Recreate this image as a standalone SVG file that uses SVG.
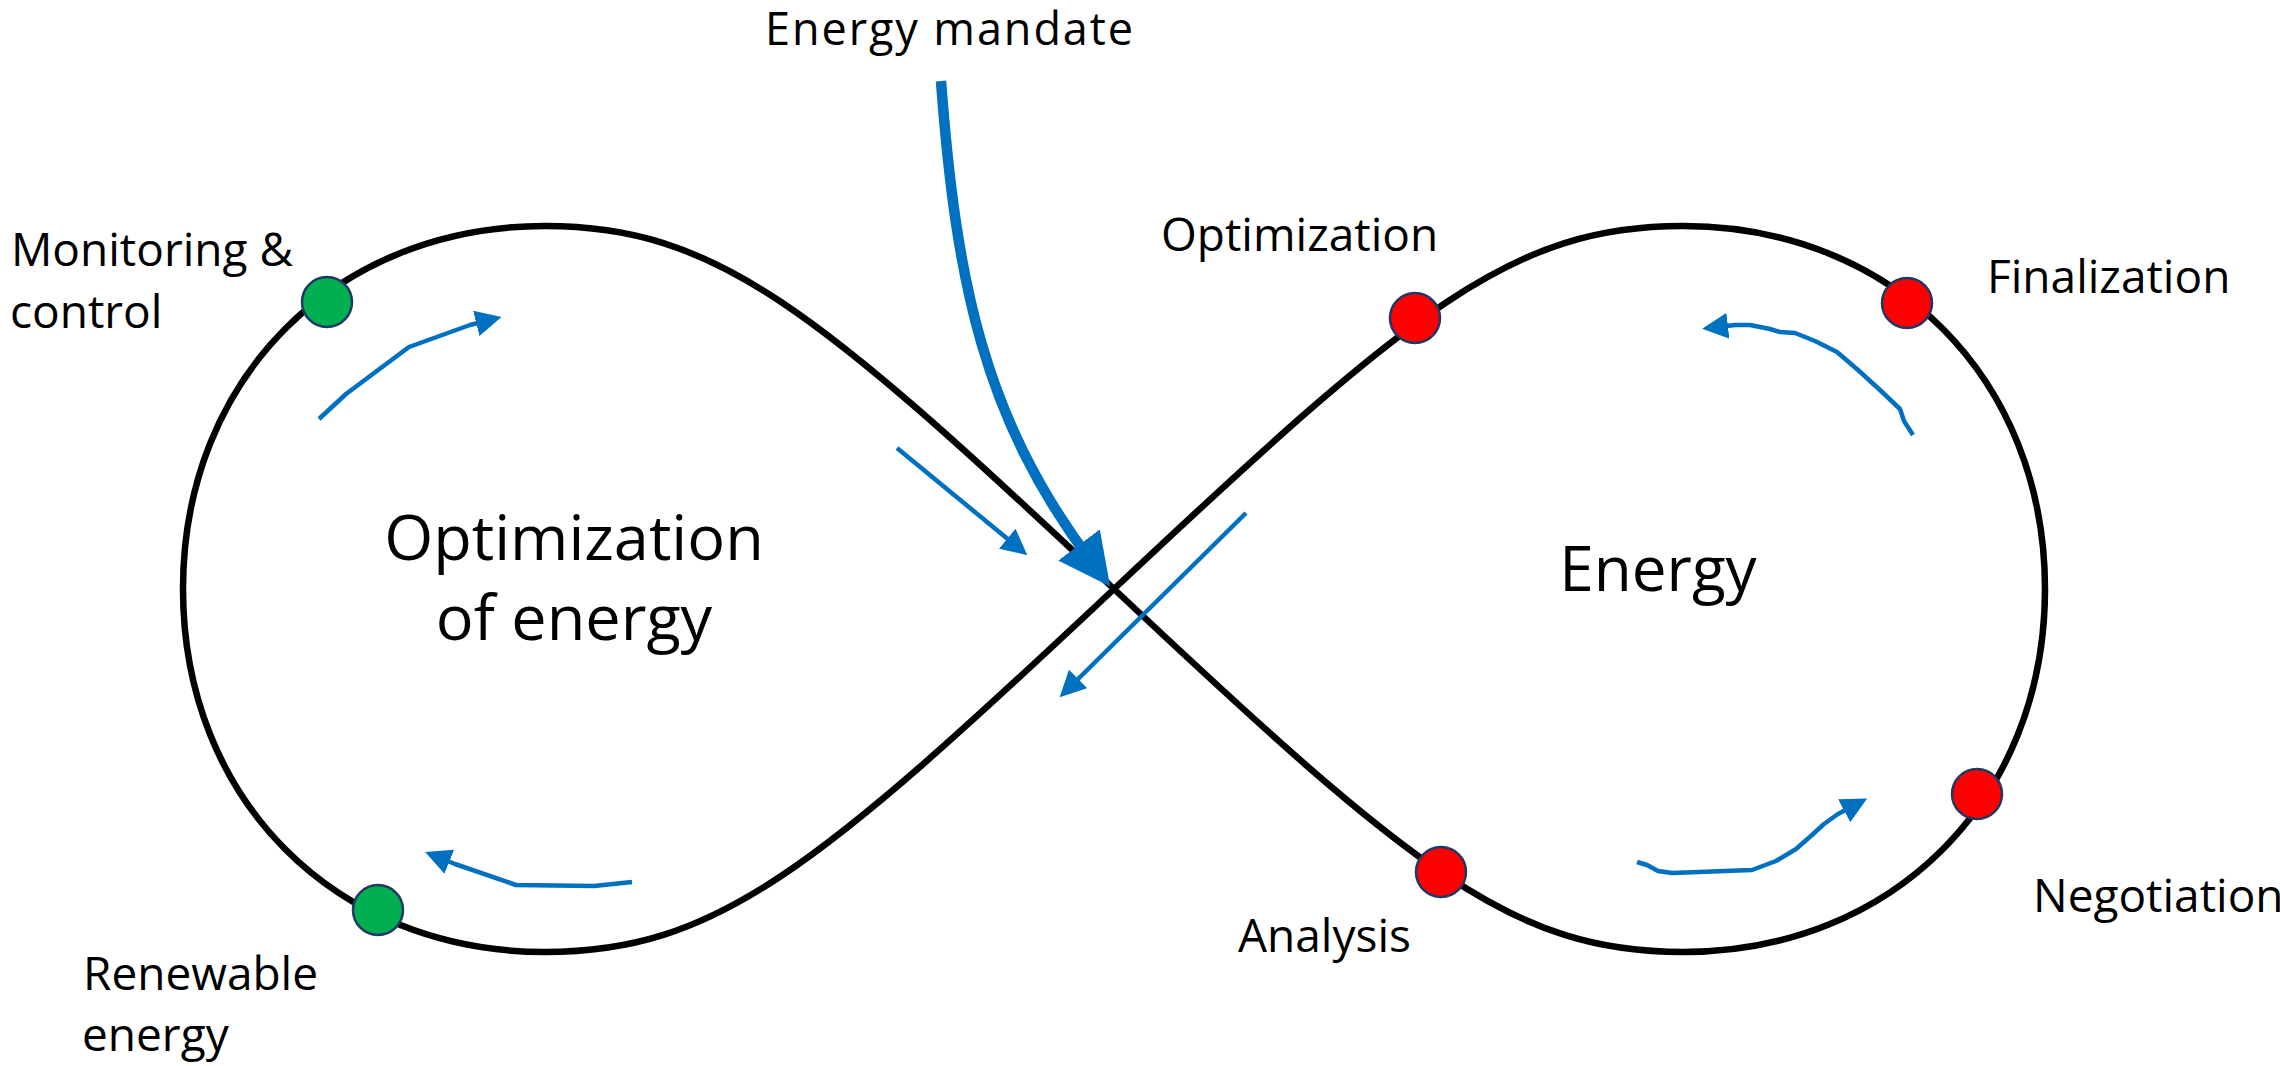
<svg xmlns="http://www.w3.org/2000/svg" width="2280" height="1066" viewBox="0 0 2280 1066">
  <defs>
    <style>
      text { font-family: "Open Sans", "Noto Sans", "Liberation Sans", sans-serif; fill: #000; }
      .label { font-size: 46px; }
      .title { font-size: 63px; }
      .loop { fill: none; stroke: #000; stroke-width: 6.5; stroke-linejoin: round; }
      .flow { fill: none; stroke: #0070C0; stroke-width: 4.5; stroke-linejoin: round; stroke-linecap: butt; marker-end: url(#head); }
      .mandate { fill: none; stroke: #0070C0; stroke-width: 10.5; marker-end: url(#bighead); }
      .dot { stroke: #1F3864; stroke-width: 2.5; }
      .green { fill: #00B050; }
      .red { fill: #FF0000; }
    </style>
    <marker id="head" viewBox="0 0 26 26" refX="10" refY="13" markerWidth="26" markerHeight="26" markerUnits="userSpaceOnUse" orient="auto">
      <path d="M0,0 L26,13 L0,26 z" fill="#0070C0"/>
    </marker>
    <marker id="bighead" viewBox="0 0 52 52" refX="20" refY="26" markerWidth="52" markerHeight="52" markerUnits="userSpaceOnUse" orient="auto">
      <path d="M0,0 L52,26 L0,52 z" fill="#0070C0"/>
    </marker>
  </defs>

  <rect width="2280" height="1066" fill="#fff"/>

  <g id="connectors">
    <!-- figure-eight loop, mirrored about x = 1114 -->
    <path class="loop" d="M1114 589 C814 307 715 226 545 226 C335 226 183 379 183 589 C183 799 335 952 545 952 C715 952 814 871 1114 589 C1414 307 1513 226 1683 226 C1893 226 2045 379 2045 589 C2045 799 1893 952 1683 952 C1513 952 1414 871 1114 589 Z"/>
    <!-- incoming mandate -->
    <path class="mandate" d="M941 81 C956 281 983 417 1091 561"/>
    <!-- circulation arrows -->
    <path class="flow" d="M319 419 L346 394 L409 347 L470 325 L486 321"/>
    <path class="flow" d="M897 448 L1015 545"/>
    <path class="flow" d="M1246 513 L1071 686"/>
    <path class="flow" d="M632 882 L594 886 L516 885 L455 864 L440 858"/>
    <path class="flow" d="M1913 435 L1904 421 L1900 409 L1880 390 L1858 370 L1837 352 L1815 341 L1795 333 L1780 332 L1770 329 L1750 325 L1735 325 L1718 327"/>
    <path class="flow" d="M1637 862 L1647 865 L1658 871 L1672 873 L1752 870 L1776 861 L1796 849 L1812 835 L1824 824 L1838 814 L1853 806"/>
  </g>

  <g id="mandate-label">
    <text x="765" y="45" font-size="45" textLength="368">Energy mandate</text>
  </g>

  <g id="lobe-optimization">
    <text class="title" x="574" y="560" text-anchor="middle">Optimization</text>
    <text class="title" x="574" y="640" text-anchor="middle">of energy</text>
  </g>

  <g id="lobe-energy">
    <text x="1658" y="591" font-size="62" text-anchor="middle">Energy</text>
  </g>

  <g id="node-monitoring">
    <circle class="dot green" cx="327" cy="302" r="25"/>
    <text class="label" x="11" y="266">Monitoring &amp;</text>
    <text class="label" x="10" y="328">control</text>
  </g>

  <g id="node-renewable">
    <circle class="dot green" cx="378" cy="910" r="25"/>
    <text class="label" x="83" y="990">Renewable</text>
    <text class="label" x="82" y="1051">energy</text>
  </g>

  <g id="node-optimization">
    <circle class="dot red" cx="1415" cy="318" r="25"/>
    <text class="label" x="1161" y="251">Optimization</text>
  </g>

  <g id="node-finalization">
    <circle class="dot red" cx="1907" cy="303" r="25"/>
    <text class="label" x="1987" y="293">Finalization</text>
  </g>

  <g id="node-analysis">
    <circle class="dot red" cx="1441" cy="872" r="25"/>
    <text class="label" x="1238" y="952">Analysis</text>
  </g>

  <g id="node-negotiation">
    <circle class="dot red" cx="1977" cy="794" r="25"/>
    <text class="label" x="2033" y="912">Negotiation</text>
  </g>
</svg>
